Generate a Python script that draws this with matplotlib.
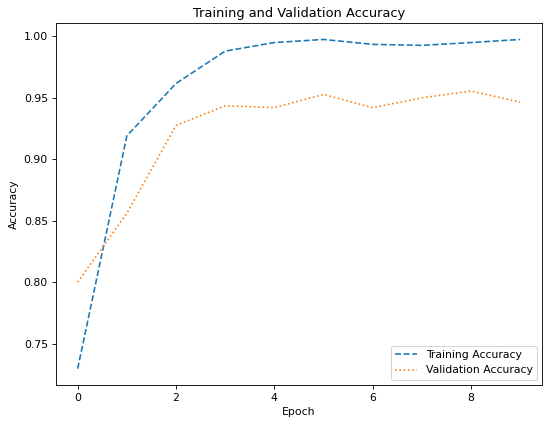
import numpy as np
import matplotlib.pyplot as plt

epochs = np.arange(10)
train_acc = [0.7296, 0.919, 0.9617, 0.988, 0.995, 0.9975, 0.9935, 0.9927, 0.995, 0.9975]
val_acc = [0.800, 0.856, 0.9275, 0.9435, 0.942, 0.9528, 0.942, 0.950, 0.9555, 0.9465]

# the reference looks like a default figure shrunk down, so render at a lower dpi
dpi = 78
fig, ax = plt.subplots(figsize=(550 / dpi, 426 / dpi), dpi=dpi)
ax.plot(epochs, train_acc, linestyle='--', label='Training Accuracy')
ax.plot(epochs, val_acc, linestyle=':', label='Validation Accuracy')

ax.set_title('Training and Validation Accuracy')
ax.set_xlabel('Epoch')
ax.set_ylabel('Accuracy')
ax.legend(loc='lower right')

plt.subplots_adjust(left=0.101, right=0.986, top=0.946, bottom=0.096)
plt.savefig('out.png', dpi=dpi)
